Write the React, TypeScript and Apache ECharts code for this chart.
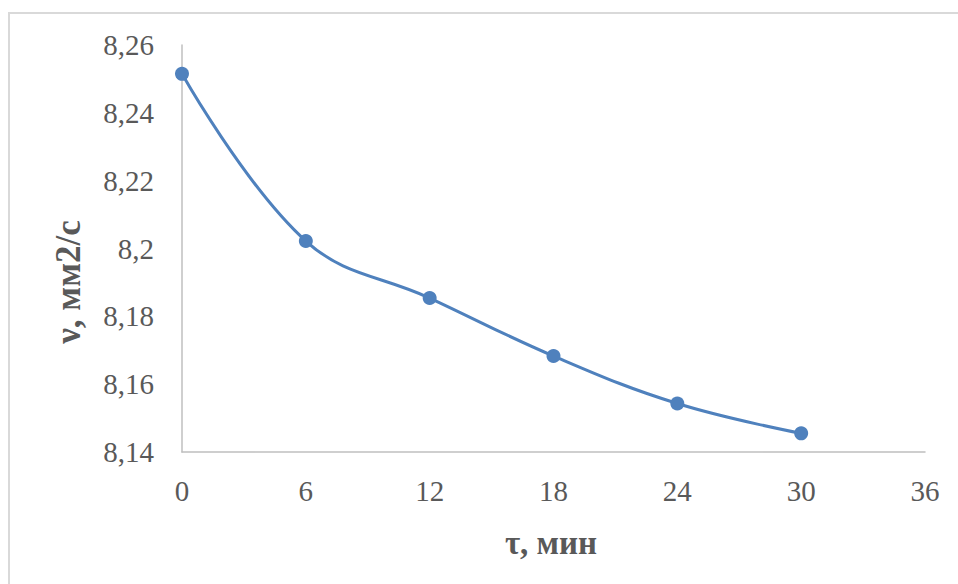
import React, { useEffect, useRef } from "react";
import * as echarts from "echarts";

const times = [0, 6, 12, 18, 24, 30];
const viscosity = [8.2515, 8.2022, 8.1854, 8.1683, 8.1543, 8.1455];
const xTitle = "τ, мин";
const yTitle = "ν, мм2/с";

export default function App() {
  const ref = useRef<HTMLDivElement>(null);
  useEffect(() => {
    if (!ref.current) return;
    const chart = echarts.init(ref.current, null, { renderer: "svg" });
    const font = "'Liberation Serif', 'Times New Roman', serif";
    chart.setOption({
      animation: false,
      backgroundColor: "#ffffff",
      grid: { left: 182, right: 33, top: 45, bottom: 132 },
      xAxis: {
        type: "value",
        min: 0,
        max: 36,
        interval: 6,
        axisLine: { lineStyle: { color: "#bfbfbf", width: 1.5 } },
        axisTick: { show: false },
        splitLine: { show: false },
        axisLabel: { color: "#595959", fontFamily: font, fontSize: 29, margin: 24 },
      },
      yAxis: {
        type: "value",
        min: 8.14,
        max: 8.26,
        interval: 0.02,
        axisLine: { show: true, lineStyle: { color: "#bfbfbf", width: 1.5 } },
        axisTick: { show: false },
        splitLine: { show: false },
        axisLabel: {
          color: "#595959",
          fontFamily: font,
          fontSize: 29,
          margin: 28,
          formatter: (v: number) => String(+v.toFixed(2)).replace(".", ","),
        },
      },
      graphic: [
        {
          type: "rect",
          shape: { x: 9, y: 13, width: 980, height: 620 },
          style: { fill: "none", stroke: "#d9d9d9", lineWidth: 2 },
          silent: true,
        },
        {
          type: "text",
          x: 551,
          y: 543,
          style: {
            text: xTitle,
            fill: "#595959",
            font: `bold 33px ${font}`,
            align: "center",
            verticalAlign: "middle",
          },
        },
        {
          type: "text",
          x: 68,
          y: 282,
          rotation: Math.PI / 2,
          style: {
            text: yTitle,
            fill: "#595959",
            font: `bold 35px ${font}`,
            align: "center",
            verticalAlign: "middle",
          },
        },
      ],
      series: [
        {
          type: "line",
          data: times.map((t, i) => [t, viscosity[i]]),
          smooth: 0.4,
          symbol: "circle",
          symbolSize: 14,
          itemStyle: { color: "#4f81bd" },
          lineStyle: { color: "#4f81bd", width: 3 },
        },
      ],
    });
    return () => chart.dispose();
  }, []);
  return (
    <div
      ref={ref}
      style={{ position: "fixed", left: 0, top: 0, width: 958, height: 584 }}
    />
  );
}
